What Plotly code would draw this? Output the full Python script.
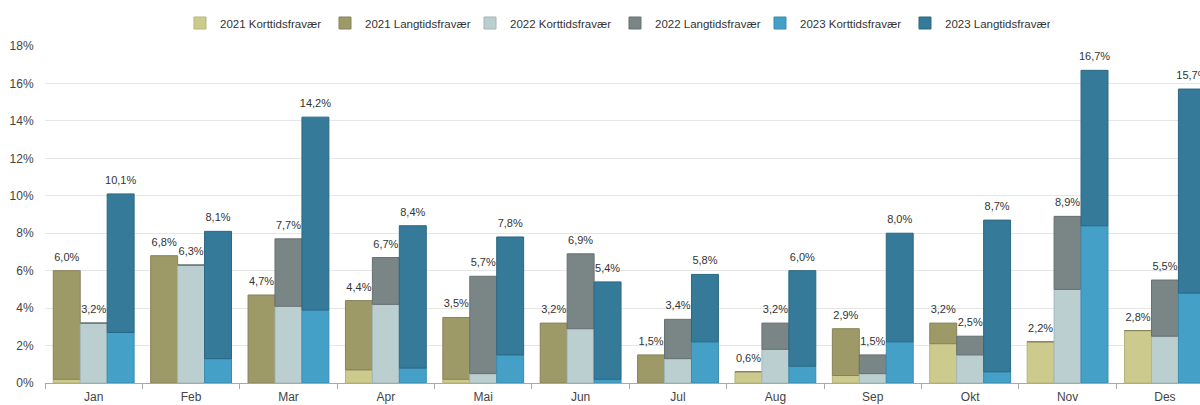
import plotly.graph_objects as go

months = ["Jan", "Feb", "Mar", "Apr", "Mai", "Jun", "Jul", "Aug", "Sep", "Okt", "Nov", "Des"]

kort_2021 = [0.2, 0.0, 0.0, 0.7, 0.2, 0.0, 0.0, 0.6, 0.4, 2.1, 2.2, 2.8]
lang_2021 = [5.8, 6.8, 4.7, 3.7, 3.3, 3.2, 1.5, 0.0, 2.5, 1.1, 0.0, 0.0]
kort_2022 = [3.2, 6.3, 4.1, 4.2, 0.5, 2.9, 1.3, 1.8, 0.5, 1.5, 5.0, 2.5]
lang_2022 = [0.0, 0.0, 3.6, 2.5, 5.2, 4.0, 2.1, 1.4, 1.0, 1.0, 3.9, 3.0]
kort_2023 = [2.7, 1.3, 3.9, 0.8, 1.5, 0.2, 2.2, 0.9, 2.2, 0.6, 8.4, 4.8]
lang_2023 = [7.4, 6.8, 10.3, 7.6, 6.3, 5.2, 3.6, 5.1, 5.8, 8.1, 8.3, 10.9]

y_ticks = [0, 2, 4, 6, 8, 10, 12, 14, 16, 18]

series = [
    ("2021", kort_2021, lang_2021, "#cccb8d", "#b5b478", "#9d9a68", "#86835a"),
    ("2022", kort_2022, lang_2022, "#bccfd0", "#a4b7b8", "#7a8585", "#677171"),
    ("2023", kort_2023, lang_2023, "#45a0c8", "#3a8cb0", "#357a99", "#2c6783"),
]

FONT = "Liberation Sans, Arial, sans-serif"
GAP = 0.17

fig = go.Figure()
for year, kort, lang, c_k, l_k, c_l, l_l in series:
    fig.add_trace(go.Bar(
        x=months, y=kort, name=f"{year} Korttidsfravær", offsetgroup=year,
        marker=dict(color=c_k, line=dict(color=l_k, width=1)),
        hoverinfo="skip",
    ))
    fig.add_trace(go.Bar(
        x=months, y=lang, base=kort, name=f"{year} Langtidsfravær", offsetgroup=year,
        marker=dict(color=c_l, line=dict(color=l_l, width=1)),
        hoverinfo="skip",
    ))

for year, kort, lang, *_ in series:
    totals = [round(a + b, 1) for a, b in zip(kort, lang)]
    labels = [f"{t:.1f}%".replace(".", ",") for t in totals]
    fig.add_trace(go.Scatter(
        x=months, y=totals, text=labels, mode="markers+text", offsetgroup=year,
        marker=dict(size=10, color="rgba(0,0,0,0)"),
        textposition="top center", cliponaxis=False,
        textfont=dict(family=FONT, size=11, color="#333333"),
        showlegend=False, hoverinfo="skip",
    ))

fig.update_layout(
    width=1200, height=405, autosize=False,
    barmode="group", bargap=GAP, bargroupgap=0,
    scattermode="group", scattergap=GAP,
    paper_bgcolor="white", plot_bgcolor="white",
    margin=dict(l=45, r=0, t=46, b=22, autoexpand=False),
    font=dict(family=FONT, size=12, color="#444444"),
    legend=dict(
        orientation="h", x=0.4935, xanchor="center", y=1 - 23 / 405, yanchor="middle",
        yref="container", font=dict(family=FONT, size=11.5, color="#333333"),
        entrywidth=100, entrywidthmode="pixels", traceorder="normal",
    ),
    showlegend=True,
)
fig.update_xaxes(
    type="category", range=[-0.5, 11.36], automargin=False,
    showline=True, linecolor="#a8a8a8", linewidth=1,
    ticks="outside", tickson="boundaries", ticklen=5, tickcolor="#a8a8a8",
    ticklabelstandoff=3,
    showgrid=False, tickfont=dict(size=12, color="#444444"),
)
fig.update_yaxes(
    range=[0, 18], tickvals=y_ticks, ticktext=[f"{v}%" for v in y_ticks],
    automargin=False,
    showgrid=True, gridcolor="#e6e6e6", gridwidth=1, zeroline=False,
    ticks="outside", ticklen=8, tickcolor="rgba(0,0,0,0)",
    tickfont=dict(size=12, color="#444444"),
)

fig.write_html(
    "out.html",
    config={"displayModeBar": False, "staticPlot": True},
    post_script="document.body.style.margin='0';document.body.style.overflow='hidden';",
)
